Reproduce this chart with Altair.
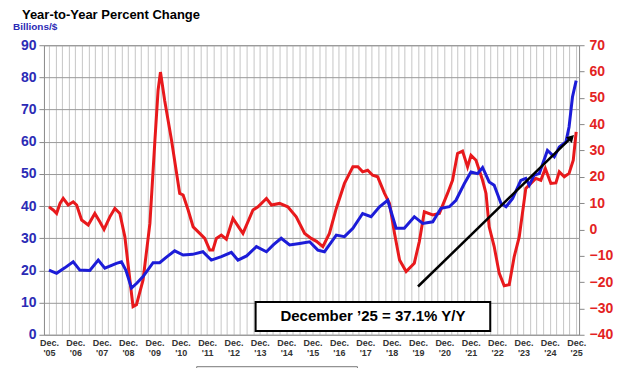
import altair as alt
import pandas as pd

# ---- data (years after Dec 2005, values) ----
blue_t = [0.0, 0.29, 0.6, 0.92, 1.17, 1.55, 1.87, 2.12, 2.56, 2.75, 2.92, 3.13, 3.33, 3.57, 3.95,
          4.2, 4.47, 4.77, 5.09, 5.45, 5.84, 6.16, 6.54, 6.92, 7.17, 7.5, 7.87, 8.25, 8.52, 8.81,
          9.13, 9.51, 9.89, 10.2, 10.45, 10.9, 11.21, 11.53, 11.9, 12.22, 12.54, 12.85, 13.17,
          13.48, 13.86, 14.18, 14.56, 14.87, 15.19, 15.44, 15.76, 16.01, 16.26, 16.45, 16.7,
          16.89, 17.15, 17.34, 17.59, 17.9, 18.09, 18.22, 18.41, 18.6, 18.91, 19.17, 19.36,
          19.61, 19.73, 19.86, 20.0]
blue_v = [20.1, 19.1, 20.8, 22.7, 20.1, 20.0, 23.2, 20.7, 22.2, 22.7, 20.0, 14.5, 16.0, 18.1, 22.4,
          22.4, 24.2, 26.1, 24.8, 25.0, 25.8, 23.2, 24.3, 25.6, 23.2, 24.5, 27.4, 25.8, 28.0, 30.0,
          27.9, 28.4, 28.9, 26.3, 25.8, 31.0, 30.5, 33.1, 37.7, 36.7, 39.8, 41.8, 33.1,
          33.1, 36.7, 34.6, 35.1, 39.3, 39.8, 41.8, 47.0, 50.6, 50.1, 52.0, 47.5,
          46.5, 40.8, 39.8, 42.4, 48.0, 48.6, 46.5, 49.6, 50.1, 57.3, 55.3, 58.4,
          59.9, 64.6, 73.9, 79.0]

red_t = [0.0, 0.16, 0.29, 0.42, 0.54, 0.73, 0.92, 1.05, 1.24, 1.49, 1.74, 1.93, 2.09, 2.31, 2.5,
         2.69, 2.88, 3.07, 3.19, 3.32, 3.57, 3.83, 4.02, 4.14, 4.23, 4.39, 4.65, 4.96, 5.09, 5.28,
         5.47, 5.72, 5.91, 6.1, 6.22, 6.35, 6.54, 6.73, 6.98, 7.23, 7.36, 7.74, 7.93, 8.25, 8.44,
         8.75, 9.06, 9.38, 9.7, 9.95, 10.15, 10.39, 10.64, 10.9, 11.21, 11.53, 11.72, 11.9, 12.09,
         12.28, 12.47, 12.73, 12.92, 13.11, 13.3, 13.55, 13.86, 14.05, 14.24, 14.56, 14.81, 15.12,
         15.31, 15.5, 15.69, 15.88, 16.01, 16.2, 16.45, 16.58, 16.7, 16.89, 17.08, 17.27, 17.46,
         17.65, 17.84, 18.09, 18.28, 18.47, 18.66, 18.83, 19.04, 19.23, 19.36, 19.55, 19.73,
         19.89, 20.0]
red_v = [8.6, 7.4, 6.1, 9.9, 11.8, 9.3, 10.5, 9.3, 3.6, 1.7, 6.1, 2.9, 0.0, 4.8, 8.0,
         6.1, -2.8, -19.2, -29.3, -28.6, -19.2, 2.3, 33.9, 52.9, 59.8, 49.0, 33.9, 13.7, 13.1, 7.4,
         1.0, -1.5, -3.4, -7.8, -7.8, -3.4, -2.1, -3.7, 4.2, 0.4, -1.5, 7.4, 8.6, 11.8, 9.3,
         9.9, 8.6, 4.8, -1.5, -3.4, -4.5, -6.5, -1.5, 8.0, 17.5, 23.8, 23.8, 21.9, 22.5,
         20.6, 20.0, 13.7, 9.9, -1.5, -11.6, -16.0, -12.8, -4.6, 6.7, 5.5, 6.1, 13.7,
         18.7, 28.9, 29.8, 23.8, 28.2, 26.3, 18.7, 13.7, 1.0, -6.5, -16.6, -21.4, -21.0,
         -10.3, -2.8, 15.6, 17.5, 19.4, 18.7, 23.2, 17.5, 17.7, 21.9, 20.0, 21.3,
         26.3, 37.1]

year_labels = ["'05", "'06", "'07", "'08", "'09", "'10", "'11", "'12", "'13", "'14", "'15",
               "'16", "'17", "'18", "'19", "'20", "'21", "'22", "'23", "'24", "'25"]
left_ticks = [0, 10, 20, 30, 40, 50, 60, 70, 80, 90]
right_ticks = [-40, -30, -20, -10, 0, 10, 20, 30, 40, 50, 60, 70]

arrow_t = [14.0, 19.8]
arrow_v = [15.0, 61.2]
head_t = [19.82]
head_v = [61.3]

box_t = [7.84, 16.74]
box_v = [10.2, 1.2]
note_text = "December \u201925 = 37.1% Y/Y"

title_text = "Year-to-Year Percent Change"
left_title = "Billions/$"

FONT = "Liberation Sans"
BLUE = "#1c1cd8"
RED = "#e8191c"
X_DOMAIN = [-0.19, 20.11]

quarters = [k / 4 for k in range(0, 81)]
labels_js = "[" + ",".join('"%s"' % s for s in year_labels) + "]"
label_expr = "datum.value % 1 === 0 ? ['Dec.', " + labels_js + "[datum.value]] : ''"


def xenc(field):
    return alt.X(field, type="quantitative",
                 scale=alt.Scale(domain=X_DOMAIN, nice=False, zero=False),
                 axis=alt.Axis(values=quarters, labelExpr=label_expr, grid=True,
                               gridColor="#b8b8b8", gridWidth=0.8, ticks=False, domain=False,
                               labelFont=FONT, labelFontSize=9, labelFontWeight="bold",
                               labelColor="#333333", labelPadding=4, labelLineHeight=10,
                               labelOverlap=False, labelFlush=False, labelBound=False,
                               title=None))


def yleft(field):
    return alt.Y(field, type="quantitative",
                 scale=alt.Scale(domain=[0, 90], nice=False, zero=False),
                 axis=alt.Axis(orient="left", values=left_ticks, grid=True, gridColor="#9a9a9a",
                               gridWidth=1, tickColor="#888888", tickSize=5, domain=False,
                               labelFont=FONT, labelFontSize=14, labelFontWeight="bold",
                               labelColor="#2b2bb5", labelPadding=3, title=None))


blue_df = pd.DataFrame({"t": blue_t, "v": blue_v})
red_df = pd.DataFrame({"t": red_t, "v": red_v})
arrow_df = pd.DataFrame({"t": arrow_t, "v": arrow_v})
head_df = pd.DataFrame({"t": head_t, "v": head_v})
box_df = pd.DataFrame({"t1": [box_t[0]], "t2": [box_t[1]], "v1": [box_v[0]], "v2": [box_v[1]],
                       "tm": [(box_t[0] + box_t[1]) / 2], "vm": [(box_v[0] + box_v[1]) / 2],
                       "label": [note_text]})
one = pd.DataFrame({"a": [0]})

red = alt.Chart(red_df).mark_line(color=RED, strokeWidth=3).encode(
    x=xenc("t"),
    y=alt.Y("v:Q", scale=alt.Scale(domain=[-40, 70], nice=False, zero=False),
            axis=alt.Axis(orient="right", values=right_ticks, grid=False, tickColor="#888888",
                          tickSize=5, domain=False, labelFont=FONT, labelFontSize=14,
                          labelFontWeight="bold", labelColor="#e3231f", labelPadding=5,
                          title=None)),
)

blue = alt.Chart(blue_df).mark_line(color=BLUE, strokeWidth=3).encode(
    x=xenc("t"), y=yleft("v"))

arrow = alt.Chart(arrow_df).mark_line(color="black", strokeWidth=2.5).encode(
    x=xenc("t"), y=yleft("v"))

head = alt.Chart(head_df).mark_point(shape="triangle-up", filled=True, color="black",
                                     size=70, angle=45, opacity=1).encode(
    x=xenc("t"), y=yleft("v"))

box = alt.Chart(box_df).mark_rect(fill="white", stroke="black", strokeWidth=2).encode(
    x=xenc("t1"), x2="t2", y=yleft("v1"), y2="v2")

note = alt.Chart(box_df).mark_text(font=FONT, fontSize=15, fontWeight="bold",
                                   color="black").encode(
    x=xenc("tm"), y=yleft("vm"), text="label:N")

ytitle = alt.Chart(one).mark_text(font=FONT, fontSize=10, fontWeight="bold", color="#2b2bb5",
                                  align="left", baseline="middle", text=left_title).encode(
    x=alt.value(-31), y=alt.value(-18))

main_title = alt.Chart(one).mark_text(font=FONT, fontSize=13, fontWeight="bold", color="black",
                                      align="left", baseline="alphabetic",
                                      text=title_text).encode(
    x=alt.value(-22), y=alt.value(-26))

legend_box = alt.Chart(one).mark_rect(fill="white", stroke="#777777", strokeWidth=1).encode(
    x=alt.value(153), x2=alt.value(314), y=alt.value(322), y2=alt.value(345))

left_group = alt.layer(blue, arrow, head, box, note, ytitle, main_title, legend_box)

chart = alt.layer(red, left_group).resolve_scale(y="independent").properties(
    width=536, height=290,
    autosize=alt.AutoSizeParams(type="none"),
    padding={"left": 36, "top": 37, "right": 40, "bottom": 33},
).configure_view(stroke="#888888", strokeWidth=1)

chart.save("out.html", embed_options={"renderer": "svg", "actions": False})
